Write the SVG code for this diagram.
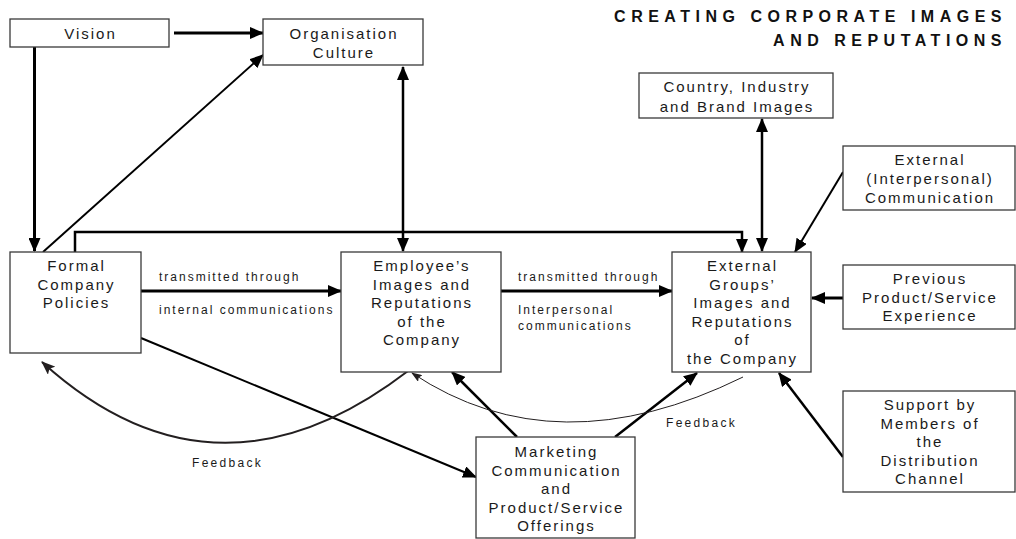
<svg xmlns="http://www.w3.org/2000/svg" width="1016" height="539" viewBox="0 0 1016 539">
<style>
.box{fill:#fff;stroke:#3a3a3a;stroke-width:1.3}
.t{font-family:"Liberation Sans",Arial,sans-serif;font-size:15px;letter-spacing:2px;fill:#1a1a1a;text-anchor:middle}
.s{font-family:"Liberation Sans",Arial,sans-serif;font-size:12px;letter-spacing:2px;fill:#1a1a1a}
.title{font-family:"Liberation Sans",Arial,sans-serif;font-size:16px;font-weight:bold;letter-spacing:5.5px;fill:#111;text-anchor:end}
.c{fill:none;stroke:#000;stroke-width:2.5}
.c3{stroke-width:3}
.c2{stroke-width:2}
.fb{fill:none;stroke:#231f20;stroke-width:2}
.fbt{fill:none;stroke:#231f20;stroke-width:1}
</style>
<defs>
<marker id="ah" markerWidth="14" markerHeight="12" refX="13" refY="6" orient="auto-start-reverse" markerUnits="userSpaceOnUse"><path d="M0,0 L14,6 L0,12 z" fill="#000"/></marker>
<marker id="ahf" markerWidth="14" markerHeight="11" refX="13" refY="5.5" orient="auto" markerUnits="userSpaceOnUse"><path d="M0,0 L14,5.5 L0,11 L3,5.5 z" fill="#231f20"/></marker>
<marker id="ahs" markerWidth="11" markerHeight="8" refX="10" refY="4" orient="auto" markerUnits="userSpaceOnUse"><path d="M0,0 L11,4 L0,8 L2,4 z" fill="#231f20"/></marker>
</defs>
<rect width="1016" height="539" fill="#fff"/>
<g id="connectors">
<path class="c c3" d="M174,33 H263" marker-end="url(#ah)"/>
<path class="c c3" d="M34.5,47 V251" marker-end="url(#ah)"/>
<path class="c c2" d="M43,252 L263,55" marker-end="url(#ah)"/>
<path class="c" d="M75,252 V232 H742 V252" marker-end="url(#ah)"/>
<path class="c" d="M403,67 V251" marker-start="url(#ah)" marker-end="url(#ah)"/>
<path class="c c3" d="M141,291 H341" marker-end="url(#ah)"/>
<path class="c c3" d="M501,291 H672" marker-end="url(#ah)"/>
<path class="c" d="M762,119 V251" marker-start="url(#ah)" marker-end="url(#ah)"/>
<path class="c c2" d="M843,172 L795,252" marker-end="url(#ah)"/>
<path class="c c3" d="M843,298 H812" marker-end="url(#ah)"/>
<path class="c" d="M843,457 L779,373" marker-end="url(#ah)"/>
<path class="c" d="M517,437 L452,372" marker-end="url(#ah)"/>
<path class="c" d="M615,437 L697,373" marker-end="url(#ah)"/>
<path class="c c2" d="M141,338 L476,477" marker-end="url(#ah)"/>
<path class="fb" d="M408,371 Q215,519 42,362" marker-end="url(#ahf)"/>
<path class="fbt" d="M743,377 Q556,469 412,373" marker-end="url(#ahs)"/>
<text class="s" x="159" y="281">transmitted through</text>
<text class="s" x="159" y="314">internal communications</text>
<text class="s" x="518" y="281">transmitted through</text>
<text class="s" x="518" y="314">Interpersonal</text>
<text class="s" x="518" y="330">communications</text>
<text class="s" x="192" y="467" style="letter-spacing:2.3px">Feedback</text>
<text class="s" x="666" y="427" style="letter-spacing:2.3px">Feedback</text>
</g>
<g id="title">
<text class="title" x="1007" y="22">CREATING CORPORATE IMAGES</text>
<text class="title" x="1007" y="46">AND REPUTATIONS</text>
</g>
<g id="vision">
<rect class="box" x="10" y="19" width="159" height="28"/>
<text class="t" x="90.5" y="38.5">Vision</text>
</g>
<g id="organisation-culture">
<rect class="box" x="263" y="19" width="160" height="46"/>
<text class="t" x="344" y="39">Organisation</text>
<text class="t" x="344" y="57.5">Culture</text>
</g>
<g id="formal-policies">
<rect class="box" x="10" y="252" width="131" height="101"/>
<text class="t" x="76.5" y="271">Formal</text>
<text class="t" x="76.5" y="289.5">Company</text>
<text class="t" x="76.5" y="308">Policies</text>
</g>
<g id="employee-images">
<rect class="box" x="341" y="252" width="160" height="120"/>
<text class="t" x="422" y="271">Employee’s</text>
<text class="t" x="422" y="289.5">Images and</text>
<text class="t" x="422" y="308">Reputations</text>
<text class="t" x="422" y="326.5">of the</text>
<text class="t" x="422" y="345">Company</text>
</g>
<g id="external-images">
<rect class="box" x="672" y="252" width="139" height="120"/>
<text class="t" x="742.5" y="271">External</text>
<text class="t" x="742.5" y="289.5">Groups’</text>
<text class="t" x="742.5" y="308">Images and</text>
<text class="t" x="742.5" y="326.5">Reputations</text>
<text class="t" x="742.5" y="345">of</text>
<text class="t" x="742.5" y="363.5">the Company</text>
</g>
<g id="country-images">
<rect class="box" x="639" y="73" width="194" height="45"/>
<text class="t" x="737" y="92">Country, Industry</text>
<text class="t" x="737" y="111.5">and Brand Images</text>
</g>
<g id="external-communication">
<rect class="box" x="843" y="146" width="172" height="64"/>
<text class="t" x="930" y="165">External</text>
<text class="t" x="930" y="184">(Interpersonal)</text>
<text class="t" x="930" y="203">Communication</text>
</g>
<g id="previous-experience">
<rect class="box" x="843" y="265" width="172" height="64"/>
<text class="t" x="930" y="284">Previous</text>
<text class="t" x="930" y="302.5">Product/Service</text>
<text class="t" x="930" y="321">Experience</text>
</g>
<g id="distribution-support">
<rect class="box" x="843" y="391" width="172" height="101"/>
<text class="t" x="930" y="410">Support by</text>
<text class="t" x="930" y="428.5">Members of</text>
<text class="t" x="930" y="447">the</text>
<text class="t" x="930" y="465.5">Distribution</text>
<text class="t" x="930" y="484">Channel</text>
</g>
<g id="marketing-communication">
<rect class="box" x="476" y="437" width="159" height="101"/>
<text class="t" x="556.5" y="457">Marketing</text>
<text class="t" x="556.5" y="475.5">Communication</text>
<text class="t" x="556.5" y="494">and</text>
<text class="t" x="556.5" y="512.5">Product/Service</text>
<text class="t" x="556.5" y="531">Offerings</text>
</g>
</svg>
